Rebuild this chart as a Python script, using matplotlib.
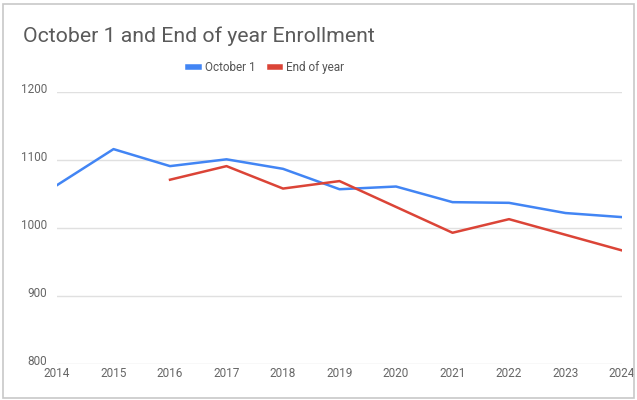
import matplotlib.pyplot as plt
from matplotlib.lines import Line2D
from matplotlib.patches import Rectangle
from matplotlib.transforms import ScaledTranslation

years = [2014, 2015, 2016, 2017, 2018, 2019, 2020, 2021, 2022, 2023, 2024]
october_1 = [1063, 1116, 1091, 1101, 1087, 1057, 1061, 1038, 1037, 1022, 1016]
eoy_years = [2016, 2017, 2018, 2019, 2020, 2021, 2022, 2023, 2024]
end_of_year = [1071, 1091, 1058, 1069, 1031, 993, 1013, 990, 967]

BLUE = '#4285F4'
RED = '#DB4437'
TEXT = '#666666'

plt.rcParams['font.family'] = ['Roboto', 'DejaVu Sans']

fig = plt.figure(figsize=(6.37, 4.0), dpi=100)
fig.patches.append(Rectangle((0.005, 0.005), 0.99, 0.985, transform=fig.transFigure,
                             fill=False, edgecolor='#c8c8c8', linewidth=1.2))

ax = fig.add_axes([0.0895, 0.09, 0.887, 0.68])
ax.plot(years, october_1, color=BLUE, linewidth=1.8, label='October 1')
ax.plot(eoy_years, end_of_year, color=RED, linewidth=1.8, label='End of year')

ax.set_xlim(2014, 2024)
ax.set_ylim(800, 1200)
ax.set_xticks(years)
ax.set_yticks([800, 900, 1000, 1100, 1200])
ax.grid(axis='y', color='#e0e0e0', linewidth=1)
ax.set_axisbelow(True)
for s in ax.spines.values():
    s.set_visible(False)
ax.tick_params(length=0, labelsize=8.5, colors=TEXT)
ax.tick_params(axis='x', pad=2)
ax.tick_params(axis='y', pad=7)
# nudge y labels up a little so 800 clears 2014
up = ScaledTranslation(0, 3 / 72, fig.dpi_scale_trans)
for lab in ax.get_yticklabels():
    lab.set_transform(lab.get_transform() + up)

fig.text(0.036, 0.895, 'October 1 and End of year Enrollment', fontsize=15.3,
         color='#5a5a5a', ha='left', va='baseline')

handles = [Line2D([], [], color=BLUE, linewidth=4), Line2D([], [], color=RED, linewidth=4)]
fig.legend(handles, ['October 1', 'End of year'], loc='center', bbox_to_anchor=(0.418, 0.832),
           ncol=2, frameon=False, fontsize=8.5, handlelength=0.9, columnspacing=1.2,
           handletextpad=0.5, labelcolor='#555555')

fig.savefig('out.png', dpi=100)
